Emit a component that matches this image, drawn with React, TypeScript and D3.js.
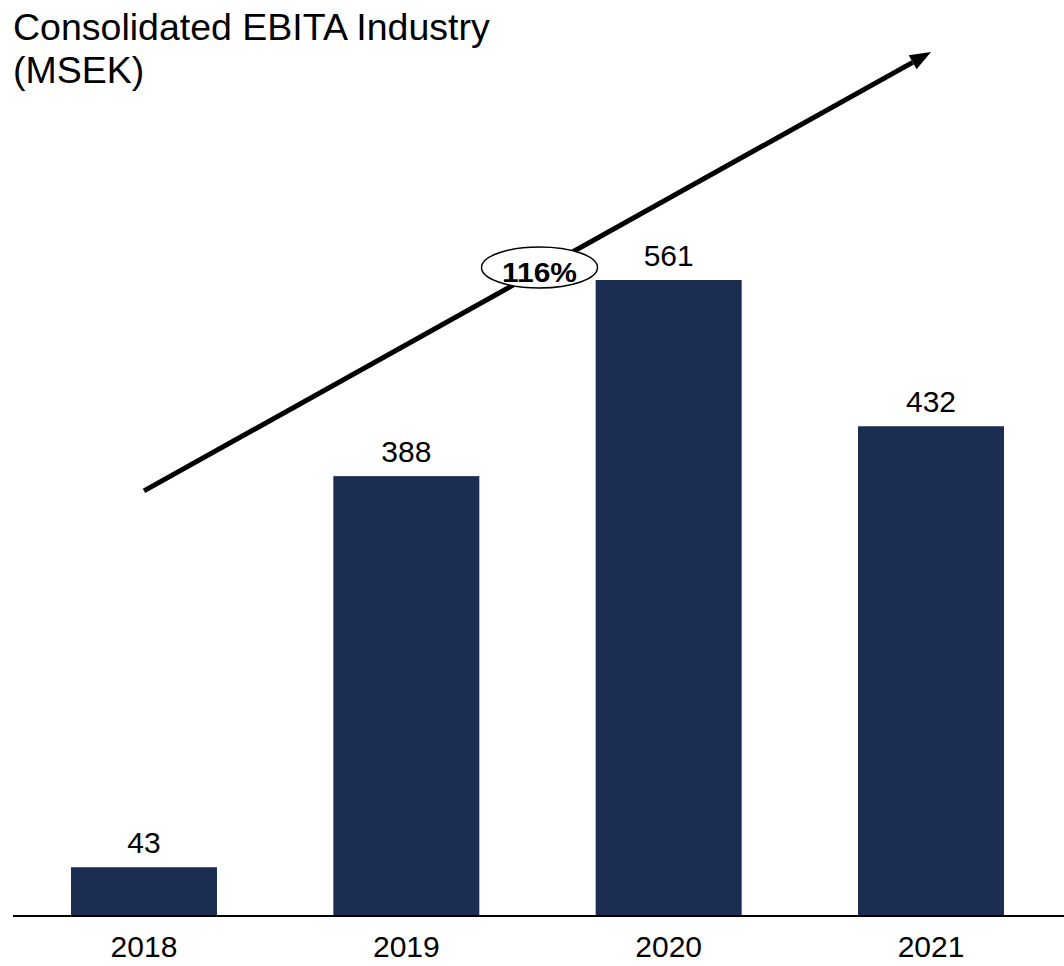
import React from "react";
import * as d3 from "d3";

const years = ["2018", "2019", "2020", "2021"];
const ebita = [43, 388, 561, 432];
const titleLines = ["Consolidated EBITA Industry", "(MSEK)"];
const cagrLabel = "116%";
// arrow endpoints expressed in data units (value scale) anchored on first/last category
const arrowStartValue = 375;
const arrowEndValue = 762;

const W = 1064;
const H = 966;
const FONT = "Arial, 'Liberation Sans', Helvetica, sans-serif";
const BAR = "#1c2d52";

export default function App() {
  const step = (1062.17 - 12.83) / 4;
  const pin = 1 - 146 / step;
  const x = d3
    .scaleBand<string>()
    .domain(years)
    .range([12.83, 1062.17])
    .paddingInner(pin)
    .paddingOuter(pin / 2);
  const y = d3.scaleLinear().domain([0, 600]).range([916, 916 - 600 * 1.1337]);

  const cx = (d: string) => (x(d) as number) + x.bandwidth() / 2;

  const x0 = cx(years[0]);
  const y0 = y(arrowStartValue);
  const x1 = cx(years[years.length - 1]);
  const y1 = y(arrowEndValue);
  const ang = Math.atan2(y1 - y0, x1 - x0);
  const headLen = 21;
  const headHalf = 8;
  const bx = x1 - headLen * Math.cos(ang);
  const by = y1 - headLen * Math.sin(ang);
  const px = -Math.sin(ang);
  const py = Math.cos(ang);
  const head = [
    [x1, y1],
    [bx + headHalf * px, by + headHalf * py],
    [bx - headHalf * px, by - headHalf * py],
  ];
  const mx = (x0 + x1) / 2;
  const my = (y0 + y1) / 2;

  return (
    <svg
      width={W}
      height={H}
      style={{ position: "absolute", left: 0, top: 0, background: "#fff" }}
      fontFamily={FONT}
    >
      <rect width={W} height={H} fill="#fff" />
      {titleLines.map((t, i) => (
        <text key={i} x={13} y={40 + i * 43} fontSize={37.5} fill="#000">
          {t}
        </text>
      ))}
      {years.map((yr, i) => (
        <g key={yr}>
          <rect
            x={x(yr)}
            y={y(ebita[i])}
            width={x.bandwidth()}
            height={y(0) - y(ebita[i])}
            fill={BAR}
          />
          <text
            x={cx(yr)}
            y={y(ebita[i]) - 14}
            textAnchor="middle"
            fontSize={30}
            fill="#000"
          >
            {ebita[i]}
          </text>
          <text x={cx(yr)} y={957} textAnchor="middle" fontSize={30} fill="#000">
            {yr}
          </text>
        </g>
      ))}
      <line x1={13} x2={W} y1={y(0)} y2={y(0)} stroke="#000" strokeWidth={2} />
      <line x1={x0} y1={y0} x2={bx} y2={by} stroke="#000" strokeWidth={5} />
      <polygon points={head.map((p) => p.join(",")).join(" ")} fill="#000" />
      <ellipse cx={mx + 2} cy={my - 4} rx={58} ry={20.5} fill="#fff" stroke="#000" strokeWidth={1.5} />
      <text
        x={mx + 2}
        y={my + 10.5}
        textAnchor="middle"
        fontSize={28}
        fontWeight="bold"
        fill="#000"
        textLength={75}
        lengthAdjust="spacingAndGlyphs"
      >
        {cagrLabel}
      </text>
    </svg>
  );
}
